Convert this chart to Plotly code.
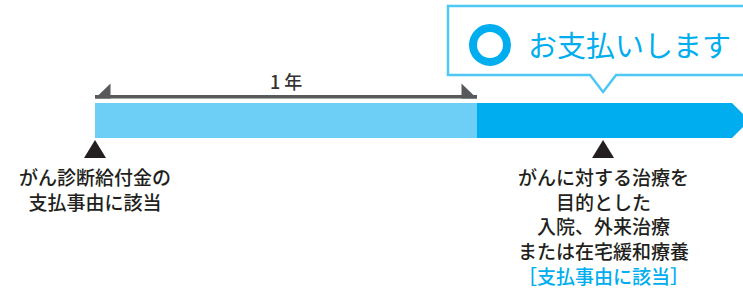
import plotly.graph_objects as go

# ---- data (timeline in years) ----
period_start = 0.0          # diagnosis
waiting_end = 1.0           # one-year mark
payment_end = 1.6675        # end of drawn payment period
event_x = [0.0, 1.33]       # event markers (years)
event_lines = [
    ["がん診断給付金の", "支払事由に該当"],
    ["がんに対する治療を", "目的とした", "入院、外来治療", "または在宅緩和療養"],
]
bracket_label = "1 年"
callout_text = "お支払いします"
note_text = "［支払事由に該当］"

# ---- styling ----
W, H = 743, 289
PX_PER_YEAR = 382.0
X_LEFT_PX = 95.0
FONT = "Noto Sans CJK JP"
LIGHT = "#6dcff6"
DARK = "#00aeef"
BOX = "#4dc8f4"
INK = "#231f20"
GRAY = "#58595b"

def px(n):
    return n / PX_PER_YEAR

xr = [-X_LEFT_PX / PX_PER_YEAR, (W - X_LEFT_PX) / PX_PER_YEAR]

fig = go.Figure()
fig.add_trace(go.Scatter(x=[period_start], y=[0], mode="markers",
                         marker=dict(opacity=0), hoverinfo="skip", showlegend=False))

shapes = []
bar_top, bar_bot = 103, 138
bar_mid = (bar_top + bar_bot) / 2
# light bar (waiting period)
shapes.append(dict(type="rect", xref="x", yref="y", x0=period_start, x1=waiting_end,
                   y0=bar_top, y1=bar_bot, fillcolor=LIGHT, line=dict(width=0), layer="below"))
# dark arrow bar (payment period)
tip = payment_end + px(bar_mid - bar_top)
shapes.append(dict(type="path", xref="x", yref="y",
                   path=f"M {waiting_end},{bar_top} L {payment_end},{bar_top} L {tip},{bar_mid} "
                        f"L {payment_end},{bar_bot} L {waiting_end},{bar_bot} Z",
                   fillcolor=DARK, line=dict(width=0), layer="below"))
# bracket (1 year)
br_y0, br_y1, br_top = 95.0, 98.5, 83.5
shapes.append(dict(type="rect", xref="x", yref="y", x0=period_start, x1=waiting_end,
                   y0=br_y0, y1=br_y1, fillcolor=GRAY, line=dict(width=0)))
shapes.append(dict(type="path", xref="x", yref="y",
                   path=f"M {period_start},{br_y1} L {period_start + px(15.5)},{br_top} "
                        f"L {period_start + px(15.5)},{br_y1} Z",
                   fillcolor=GRAY, line=dict(width=0)))
shapes.append(dict(type="path", xref="x", yref="y",
                   path=f"M {waiting_end},{br_y1} L {waiting_end - px(15.5)},{br_top} "
                        f"L {waiting_end - px(15.5)},{br_y1} Z",
                   fillcolor=GRAY, line=dict(width=0)))
# callout box with pointer above payment event
bx0 = waiting_end - px(29)
bx1 = xr[1] + px(20)
by0, by1 = 6, 75
pc = event_x[1]
shapes.append(dict(type="path", xref="x", yref="y",
                   path=f"M {bx0},{by0} L {bx1},{by0} L {bx1},{by1} L {pc + px(13)},{by1} "
                        f"L {pc},{by1 + 17} L {pc - px(13)},{by1} L {bx0},{by1} Z",
                   fillcolor="white", line=dict(color=BOX, width=2.5)))
# ring
ring_x = waiting_end + px(13)
shapes.append(dict(type="circle", xref="x", yref="y", xsizemode="pixel", xanchor=ring_x,
                   x0=-17, x1=17, y0=28, y1=62, line=dict(color=DARK, width=8)))
# event triangles
for ex in event_x:
    shapes.append(dict(type="path", xref="x", yref="y",
                       path=f"M {ex - px(11)},158 L {ex + px(11)},158 L {ex},140 Z",
                       fillcolor=INK, line=dict(width=0)))

annotations = []
annotations.append(dict(x=(period_start + waiting_end) / 2, y=81, xref="x", yref="y",
                        text=bracket_label, showarrow=False,
                        font=dict(family=FONT, size=18, color="#333333", weight=500)))
annotations.append(dict(x=waiting_end + px(152), y=44, xref="x", yref="y",
                        text=callout_text, showarrow=False,
                        font=dict(family=FONT, size=29, color=DARK)))
FS = 19
line_h = 1.3 * FS
first_y = 176.5
for k, (ex, lines) in enumerate(zip(event_x, event_lines)):
    lines = list(lines)
    if k == 1:
        lines.append(f"<span style='color:{DARK}'>{note_text}</span>")
    n = len(lines)
    cy = first_y + (n - 1) * line_h / 2
    annotations.append(dict(x=ex, y=cy, xref="x", yref="y",
                            text="<br>".join(lines), showarrow=False, align="center",
                            font=dict(family=FONT, size=FS, color=INK, weight=500)))

fig.update_layout(
    width=W, height=H, margin=dict(l=0, r=0, t=0, b=0),
    paper_bgcolor="white", plot_bgcolor="white",
    xaxis=dict(range=xr, visible=False, fixedrange=True),
    yaxis=dict(range=[H, 0], visible=False, fixedrange=True),
    shapes=shapes, annotations=annotations, showlegend=False,
)
fig.write_html("out.html", config={"displayModeBar": False},
               post_script="document.body.style.margin='0';document.body.style.overflow='hidden';")
